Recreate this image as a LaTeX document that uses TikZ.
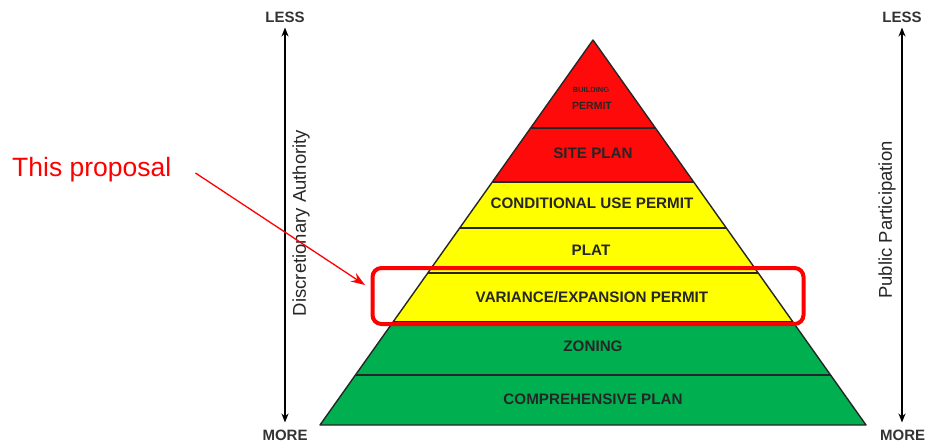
\documentclass[tikz,border=0pt]{standalone}
\usepackage{fontspec}
\setmainfont{Liberation Sans}
\usetikzlibrary{arrows.meta}
\definecolor{pred}{RGB}{255,10,10}
\definecolor{pyel}{RGB}{255,255,0}
\definecolor{pgrn}{RGB}{0,176,80}
\definecolor{hred}{RGB}{255,0,0}
\tikzset{
  band/.style={draw=black!85, line width=1.4pt, line join=round},
  lbl/.style={font=\bfseries\fontsize{15.2}{15.2}\selectfont, text=black!85, inner sep=0pt},
  axis/.style={draw=black, line width=1.6pt, {Stealth[length=9pt,width=7pt]}-{Stealth[length=9pt,width=7pt]}},
  endlbl/.style={font=\bfseries\fontsize{15}{15}\selectfont, text=black!80, inner sep=0pt},
  axlbl/.style={font=\fontsize{18.5}{18.5}\selectfont, text=black!85, rotate=90, inner sep=0pt},
  selbox/.style={draw=hred, line width=4pt, rounded corners=9pt, minimum width=431pt, minimum height=56pt, inner sep=0pt},
  callout/.style={draw=hred, line width=1.3pt, -{Stealth[length=14pt,width=10pt]}}
}
\begin{document}
\begin{tikzpicture}[x=1pt,y=-1pt]
\useasboundingbox (0,0) rectangle (925,446);
% pyramid: apex (593,40), half-width 273 at y=425
\pgfmathsetmacro{\k}{273/385}
\foreach \ya/\yb/\col in {40/128/pred,128/182/pred,182/228/pyel,228/273/pyel,273/322/pyel,322/375/pgrn,375/425/pgrn}{
  \pgfmathsetmacro{\wa}{\k*(\ya-40)}
  \pgfmathsetmacro{\wb}{\k*(\yb-40)}
  \fill[\col] (593-\wa,\ya) -- (593+\wa,\ya) -- (593+\wb,\yb) -- (593-\wb,\yb) -- cycle;
}
\foreach \yy in {128,182,228,273,322,375}{
  \pgfmathsetmacro{\ww}{\k*(\yy-40)}
  \draw[band] (593-\ww,\yy) -- (593+\ww,\yy);
}
\draw[band] (593,40) -- (320,425) -- (866,425) -- cycle;
% labels
\node[lbl, font=\bfseries\fontsize{7.5}{7.5}\selectfont] (l1a) at (591,90) {BUILDING};
\node[lbl, font=\bfseries\fontsize{10.5}{10.5}\selectfont] (l1b) at (592,106) {PERMIT};
\node[lbl] (l2) at (593,153) {SITE PLAN};
\node[lbl] (l3) at (592,203) {CONDITIONAL USE PERMIT};
\node[lbl] (l4) at (591,250) {PLAT};
\node[lbl] (l5) at (592,297) {VARIANCE/EXPANSION PERMIT};
\node[lbl] (l6) at (593,346) {ZONING};
\node[lbl] (l7) at (593,399) {COMPREHENSIVE PLAN};
% axes
\node[endlbl] (lessL) at (285,17) {LESS};
\node[endlbl] (moreL) at (285,435) {MORE};
\path (lessL.south) ++(0,5) coordinate (la);
\path (moreL.north) ++(0,-7) coordinate (lb);
\draw[axis] (la) -- (lb);
\node[axlbl] (da) at (301,223) {Discretionary Authority};
\node[endlbl] (lessR) at (902,17) {LESS};
\node[endlbl, anchor=west] (moreR) at (880,435) {MORE};
\path (lessR.south) ++(0,5) coordinate (ra);
\path (lessR.south |- moreR.north) ++(0,-7) coordinate (rb);
\draw[axis] (ra) -- (rb);
\node[axlbl] (pp) at (887,220) {Public Participation};
% selection box and callout
\node[selbox] (sel) at (588,296) {};
\node[font=\fontsize{26.5}{26.5}\selectfont, text=hred, inner sep=0pt, anchor=west] (tp) at (12,170) {This proposal};
\coordinate (tip) at (365,285);
\draw[callout] (tp.east) ++(24,3) -- (tip);
\end{tikzpicture}
\end{document}
